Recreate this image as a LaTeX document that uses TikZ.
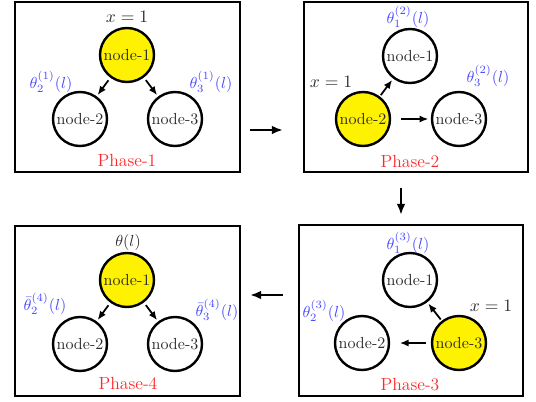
\documentclass[tikz,border=0pt]{standalone}
\usetikzlibrary{arrows.meta}
\definecolor{lblblue}{RGB}{70,70,255}
\definecolor{phred}{RGB}{255,40,40}
\definecolor{txtgray}{RGB}{45,45,45}
\begin{document}
\begin{tikzpicture}[x=0.625pt,y=-0.625pt,
 frame/.style={draw, line width=1.7pt},
 nd/.style={circle, draw, line width=1.5pt, minimum size=33.75pt, inner sep=0pt, text=txtgray, font=\fontsize{10}{12}\selectfont},
 act/.style={nd, fill=yellow},
 lbl/.style={text=lblblue, inner sep=0pt},
 phase/.style={text=phred, font=\fontsize{11}{13}\selectfont, inner sep=0pt},
 xl/.style={text=txtgray, font=\fontsize{11}{13}\selectfont, inner sep=0pt},
 link/.style={-{Latex[length=5.5pt,width=4.5pt]}, line width=1.1pt},
 big/.style={-{Latex[length=7pt,width=5.5pt]}, line width=1.6pt}]
\useasboundingbox (0,0) rectangle (536,401);
% frames
\draw[frame] (15,2) rectangle (240,172);
\draw[frame] (304,2) rectangle (528,172);
\draw[frame] (299,225) rectangle (523,396);
\draw[frame] (15,226) rectangle (240,396);
% Phase-1
\node[act] (p1a) at (127,55) {node-1};
\node[nd] (p1b) at (80,119) {node-2};
\node[nd] (p1c) at (175,119) {node-3};
\node[xl] (p1x) at (127,17) {$x=1$};
\node[lbl] (p1l2) at (51,82) {$\theta_2^{(1)}(l)$};
\node[lbl] (p1l3) at (211,82) {$\theta_3^{(1)}(l)$};
\node[phase] (p1t) at (127,160) {Phase-1};
\draw[link, shorten <=2pt, shorten >=1pt] (p1a) -- (p1b);
\draw[link, shorten <=2pt, shorten >=1pt] (p1a) -- (p1c);
% Phase-2
\node[nd] (p2a) at (410,56) {node-1};
\node[act] (p2b) at (363,119) {node-2};
\node[nd] (p2c) at (459,119) {node-3};
\node[xl] (p2x) at (331,82) {$x=1$};
\node[lbl] (p2l1) at (408,17) {$\theta_1^{(2)}(l)$};
\node[lbl] (p2l3) at (488,76) {$\theta_3^{(2)}(l)$};
\node[phase] (p2t) at (410,161) {Phase-2};
\draw[link, shorten <=1pt, shorten >=1pt] (p2b) -- (p2a);
\draw[link, shorten <=6pt, shorten >=1.5pt] (p2b) -- (p2c);
% Phase-3
\node[nd] (p3a) at (410,280) {node-1};
\node[nd] (p3b) at (362,343) {node-2};
\node[act] (p3c) at (459,343) {node-3};
\node[xl] (p3x) at (491,306) {$x=1$};
\node[lbl] (p3l1) at (408,243) {$\theta_1^{(3)}(l)$};
\node[lbl] (p3l2) at (324,311) {$\theta_2^{(3)}(l)$};
\node[phase] (p3t) at (410,385) {Phase-3};
\draw[link, shorten <=1pt, shorten >=1pt] (p3c) -- (p3a);
\draw[link, shorten <=3pt, shorten >=6pt] (p3c) -- (p3b);
% Phase-4
\node[act] (p4a) at (127,280) {node-1};
\node[nd] (p4b) at (80,344) {node-2};
\node[nd] (p4c) at (175,344) {node-3};
\node[lbl, text=txtgray] (p4x) at (128,242) {$\theta(l)$};
\node[lbl] (p4l2) at (45,304) {$\bar{\theta}_2^{(4)}(l)$};
\node[lbl] (p4l3) at (217,310) {$\bar{\theta}_3^{(4)}(l)$};
\node[phase] (p4t) at (128,383) {Phase-4};
\draw[link, shorten <=2pt, shorten >=1pt] (p4a) -- (p4b);
\draw[link, shorten <=2pt, shorten >=1pt] (p4a) -- (p4c);
% transitions
\coordinate (t1s) at (250,130);
\coordinate (t1e) at (283,130);
\coordinate (t2s) at (401,188);
\coordinate (t2e) at (401,215);
\coordinate (t3s) at (283,295);
\coordinate (t3e) at (250,295);
\draw[big] (t1s) -- (t1e);
\draw[big] (t2s) -- (t2e);
\draw[big] (t3s) -- (t3e);
\end{tikzpicture}
\end{document}
